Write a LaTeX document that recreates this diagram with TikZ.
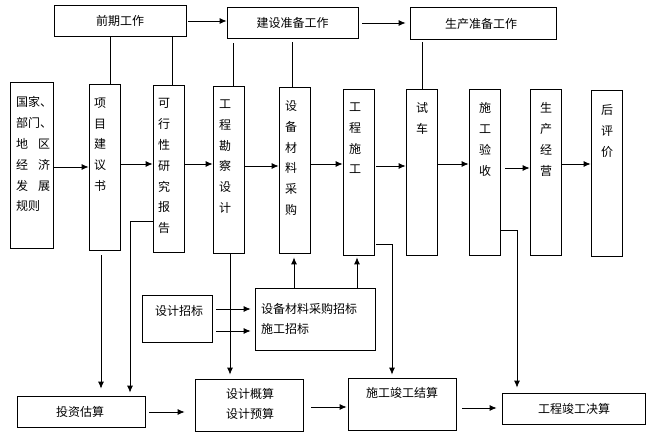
\documentclass[tikz,border=0pt]{standalone}
\usepackage{fontspec}
\newfontfamily\cjk{Noto Sans CJK SC}
\usetikzlibrary{arrows.meta}
\begin{document}
\begin{tikzpicture}[x=1pt,y=-1pt,
  box/.style={draw,line width=0.8pt,inner sep=0pt},
  txt/.style={inner sep=0pt,font=\cjk\fontsize{12}{20.8}\selectfont,align=left},
  ln/.style={line width=0.8pt},
  arr/.style={line width=0.8pt,-{Latex[length=7pt,width=6pt]}}]
\useasboundingbox[fill=white] (0,0) rectangle (655,435);
% top boxes
\node[box,minimum width=132pt,minimum height=31pt] (top1) at (120,20.5) {};
\node[txt] (top1t) at (120,21) {前期工作};
\node[box,minimum width=131pt,minimum height=31pt] (top2) at (292.5,22.5) {};
\node[txt] (top2t) at (292.5,23) {建设准备工作};
\node[box,minimum width=146pt,minimum height=32pt] (top3) at (483,23) {};
\node[txt] (top3t) at (481,24) {生产准备工作};
% tall boxes
\node[box,minimum width=43pt,minimum height=166pt] (b1) at (31.5,165) {};
\node[box,minimum width=31pt,minimum height=166pt] (b2) at (104.5,167) {};
\node[box,minimum width=31pt,minimum height=167pt] (b3) at (168.5,168.5) {};
\node[box,minimum width=31pt,minimum height=167pt] (b4) at (228.5,169.5) {};
\node[box,minimum width=31pt,minimum height=166pt] (b5) at (294.5,170) {};
\node[box,minimum width=31pt,minimum height=166pt] (b6) at (358.5,172) {};
\node[box,minimum width=31pt,minimum height=166pt] (b7) at (421.5,172) {};
\node[box,minimum width=31pt,minimum height=166pt] (b8) at (484.5,172) {};
\node[box,minimum width=31pt,minimum height=166pt] (b9) at (545.5,172) {};
\node[box,minimum width=31pt,minimum height=166pt] (b10) at (606.5,173) {};
\node[txt,anchor=north west] (b1t) at (16,96.5) {国家、\\部门、\\地\hspace{10pt}区\\经\hspace{10pt}济\\发\hspace{10pt}展\\规则};
\node[txt,anchor=north west] (b2t) at (94,97.5) {项\\目\\建\\议\\书};
\node[txt,anchor=north west] (b3t) at (158,98.5) {可\\行\\性\\研\\究\\报\\告};
\node[txt,anchor=north west] (b4t) at (219,99.5) {工\\程\\勘\\察\\设\\计};
\node[txt,anchor=north west] (b5t) at (285,100.5) {设\\备\\材\\料\\采\\购};
\node[txt,anchor=north west] (b6t) at (349,102.5) {工\\程\\施\\工};
\node[txt,anchor=north west] (b7t) at (416,102.5) {试\\车};
\node[txt,anchor=north west] (b8t) at (479,102.5) {施\\工\\验\\收};
\node[txt,anchor=north west] (b9t) at (540,102.5) {生\\产\\经\\营};
\node[txt,anchor=north west] (b10t) at (601,104.5) {后\\评\\价};
% middle boxes
\node[box,minimum width=70pt,minimum height=47pt] (c1) at (177,318.5) {};
\node[txt] (c1t) at (179,311) {设计招标};
\node[box,minimum width=120pt,minimum height=62pt] (c2) at (315,319) {};
\node[txt,anchor=west] (c2t) at (261,319) {设备材料采购招标\\施工招标};
% bottom boxes
\node[box,minimum width=128pt,minimum height=31pt] (d1) at (81,411.5) {};
\node[txt] (d1t) at (80,412) {投资估算};
\node[box,minimum width=108pt,minimum height=52pt] (d2) at (249,405) {};
\node[txt,align=center] (d2t) at (250,404) {设计概算\\设计预算};
\node[box,minimum width=108pt,minimum height=52pt] (d3) at (402,404) {};
\node[txt] (d3t) at (402,393) {施工竣工结算};
\node[box,minimum width=143pt,minimum height=31pt] (d4) at (573.5,408.5) {};
\node[txt] (d4t) at (574,409) {工程竣工决算};
% top arrows
\draw[arr,shorten <=2pt] (top1.east |- 0,21) -- (top2.west |- 0,21);
\draw[arr,shorten <=4pt,shorten >=4pt] (top2.east |- 0,23) -- (top3.west |- 0,23);
% top verticals
\draw[ln] (top1.south -| 110,0) -- (b2.north -| 110,0);
\draw[ln] (top1.south -| 172,0) -- (b3.north -| 172,0);
\draw[ln,shorten <=5pt] (top2.south -| 233,0) -- (b4.north -| 233,0);
\draw[ln,shorten <=4pt] (top2.south -| 292,0) -- (b5.north -| 292,0);
\draw[ln,shorten <=3pt] (top3.south -| 422,0) -- (b7.north -| 422,0);
% chain arrows
\draw[arr] (b1.east |- 0,167) -- (b2.west |- 0,167);
\draw[arr] (b2.east |- 0,164) -- (b3.west |- 0,164);
\draw[arr] (b3.east |- 0,164) -- (b4.west |- 0,164);
\draw[arr] (b4.east |- 0,166) -- (b5.west |- 0,166);
\draw[arr] (b5.east |- 0,164) -- (b6.west |- 0,164);
\draw[arr,shorten <=2pt] (b6.east |- 0,166) -- (b7.west |- 0,166);
\draw[arr] (b7.east |- 0,164) -- (b8.west |- 0,164);
\draw[arr,shorten <=5pt] (b8.east |- 0,168) -- (b9.west |- 0,168);
\draw[arr] (b9.east |- 0,164) -- (b10.west |- 0,164);
% tender arrows
\draw[arr,shorten <=4pt,shorten >=4pt] (c1.east |- 0,309) -- (c2.west |- 0,309);
\draw[arr,shorten <=4pt,shorten >=4pt] (c1.east |- 0,331) -- (c2.west |- 0,331);
\draw[arr,shorten >=4pt] (c2.north -| 294,0) -- (b5.south -| 294,0);
\draw[arr,shorten >=2pt] (c2.north -| 357,0) -- (b6.south -| 357,0);
% down arrows
\draw[arr,shorten <=5pt,shorten >=7pt] (b2.south -| 101,0) -- (d1.north -| 101,0);
\draw[arr,shorten >=3pt] (b3.west |- 0,221) -| (d1.north -| 130,0);
\draw[arr,shorten >=4pt] (b4.south -| 230,0) -- (d2.north -| 230,0);
\draw[arr,shorten <=2pt,shorten >=3pt] (b6.east |- 0,244) -| (d3.north -| 392,0);
\draw[arr,shorten >=5pt] (b8.east |- 0,230) -| (d4.north -| 517,0);
% bottom arrows
\draw[arr,shorten <=4pt,shorten >=10pt] (d1.east |- 0,412) -- (d2.west |- 0,412);
\draw[arr,shorten <=8pt,shorten >=1pt] (d2.east |- 0,407) -- (d3.west |- 0,407);
\draw[arr,shorten <=6pt,shorten >=5pt] (d3.east |- 0,408) -- (d4.west |- 0,408);
\end{tikzpicture}
\end{document}
